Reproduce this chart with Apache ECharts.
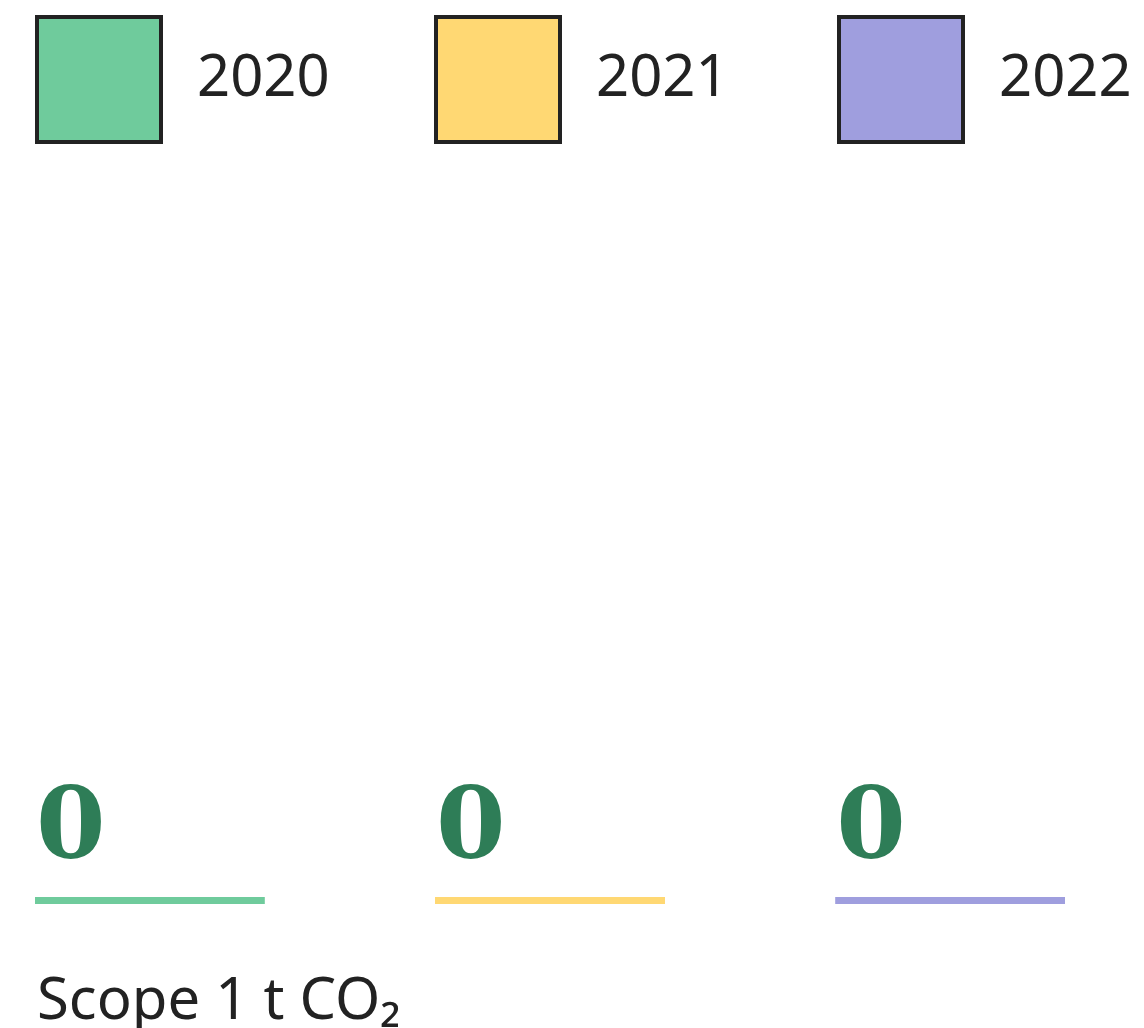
<!DOCTYPE html>
<html>
<head>
<meta charset="utf-8">
<title>Scope 1 t CO₂</title>
<script src="https://cdn.jsdelivr.net/npm/echarts@6/dist/echarts.min.js"></script>
<style>
    html, body { margin: 0; padding: 0; background: #fff; }
    #main { width: 1144px; height: 1028px; }
</style>
</head>
<body>
<div id="main"></div>
<script>
    // data
    var categories = ['Scope 1 t CO₂'];
    var years = ['2020', '2021', '2022'];
    var values2020 = [0];
    var values2021 = [0];
    var values2022 = [0];
    var colors = ['#6fcb9c', '#ffd873', '#9f9ede'];

    var seriesValues = [values2020, values2021, values2022];
    var legendLeft = [35, 434, 837];

    var myChart = echarts.init(document.getElementById('main'));

    var legends = [];
    var series = [];
    for (var i = 0; i < years.length; i++) {
        legends.push({
            data: [years[i]],
            left: legendLeft[i],
            top: 15,
            padding: 0,
            icon: 'rect',
            itemWidth: 124,
            itemHeight: 125,
            itemStyle: { borderColor: '#222', borderWidth: 4 },
            textStyle: {
                fontFamily: '"Noto Sans", sans-serif',
                fontSize: 58,
                color: '#222',
                padding: [0, 0, 0, 31]
            }
        });
        series.push({
            name: years[i],
            type: 'bar',
            data: seriesValues[i],
            barWidth: 230,
            barGap: '74%',
            barMinHeight: 7,
            itemStyle: { color: colors[i] },
            label: {
                show: true,
                position: [1, -15],
                verticalAlign: 'bottom',
                fontFamily: '"DejaVu Serif", serif',
                fontWeight: 'bold',
                fontSize: 100,
                color: '#2e7d57'
            }
        });
    }

    var option = {
        animation: false,
        legend: legends,
        grid: { left: 35, right: 79, top: 160, bottom: 124, containLabel: false, outerBoundsMode: 'none' },
        xAxis: {
            type: 'category',
            data: categories,
            axisLine: { show: false },
            axisTick: { show: false },
            axisLabel: { show: false },
            name: categories[0],
            nameLocation: 'start',
            nameGap: -2,
            nameTextStyle: {
                align: 'left',
                verticalAlign: 'top',
                fontFamily: '"Noto Sans", sans-serif',
                fontSize: 58,
                color: '#222',
                padding: [69, 0, 0, 0]
            }
        },
        yAxis: {
            type: 'value',
            min: 0,
            max: 1,
            show: false
        },
        series: series
    };
    myChart.setOption(option);
</script>
</body>
</html>
